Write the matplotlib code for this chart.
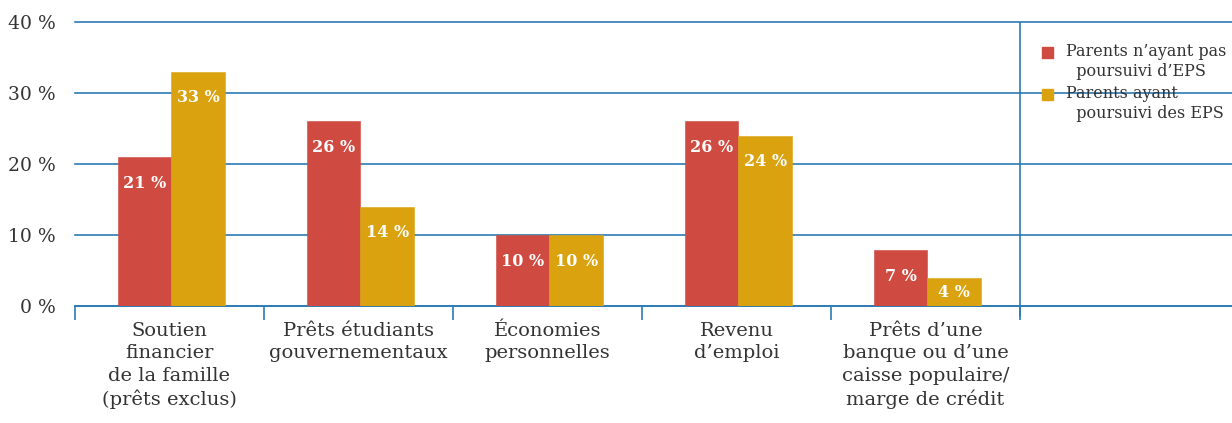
import numpy as np
import matplotlib
matplotlib.use("Agg")
import matplotlib.pyplot as plt
from matplotlib.patches import Rectangle

categories = ["Soutien\nfinancier\nde la famille\n(prêts exclus)",
              "Prêts étudiants\ngouvernementaux",
              "Économies\npersonnelles",
              "Revenu\nd’emploi",
              "Prêts d’une\nbanque ou d’une\ncaisse populaire/\nmarge de crédit"]
no_eps = [21, 26, 10, 26, 7.9]
no_eps_labels = ["21 %", "26 %", "10 %", "26 %", "7 %"]
eps = [33, 14, 10, 24, 3.9]
eps_labels = ["33 %", "14 %", "10 %", "24 %", "4 %"]
series_names = ["Parents n’ayant pas\n  poursuivi d’EPS", "Parents ayant\n  poursuivi des EPS"]
yticks = [0, 10, 20, 30, 40]

RED = "#cf4a40"
YEL = "#dba20f"
BLUE = "#2b7bb5"
TXT = "#333333"

plt.rcParams["font.family"] = ["DejaVu Serif"]

W, H = 1232, 423
fig = plt.figure(figsize=(W / 100, H / 100), dpi=100)
ax = fig.add_axes([75 / W, (H - 306) / H, (W - 75) / W, (306 - 22) / H])

x = np.arange(len(categories)) + 0.01
bw = 0.285
b1 = ax.bar(x - bw / 2, no_eps, bw, color=RED, zorder=3, edgecolor=RED, lw=0.4)
b2 = ax.bar(x + bw / 2, eps, bw, color=YEL, zorder=3, edgecolor=YEL, lw=0.4)

for bars, labels in ((b1, no_eps_labels), (b2, eps_labels)):
    for r, lab in zip(bars, labels):
        h = r.get_height()
        y = max(h - 3.7, h / 2)
        ax.text(r.get_x() + r.get_width() / 2, y, lab, ha="center", va="center",
                color="white", fontweight="bold", fontsize=11.5, zorder=4)

ax.set_ylim(0, 40)
ax.set_xlim(-0.5, 4.5 + 212 / 189)
ax.set_yticks(yticks)
ax.set_yticklabels([f"{v} %" for v in yticks], fontsize=13.5, color=TXT)
for v in yticks:
    ax.axhline(v, color=BLUE, lw=1.2, zorder=1, clip_on=False)
ax.axvline(4.5, color=BLUE, lw=1.2, zorder=1)
ax.plot([4.5, 4.5], [0, -1.4], color=BLUE, lw=1.2, clip_on=False)

ax.set_xticks(np.arange(-0.5, 4.6, 1))
ax.set_xticklabels([])
ax.tick_params(axis="x", direction="out", length=10, width=1.2, color=BLUE)
ax.tick_params(axis="y", length=0, pad=14)
for s in ["top", "right", "left"]:
    ax.spines[s].set_visible(False)
ax.spines["bottom"].set_color(BLUE)
ax.spines["bottom"].set_linewidth(1.2)

for i, c in enumerate(categories):
    ax.text(i, -2.2, c, ha="center", va="top", fontsize=14, color=TXT,
            linespacing=1.33, clip_on=False)

# legend
for yy, col, name in ((53, RED, series_names[0]), (95, YEL, series_names[1])):
    fig.add_artist(Rectangle((1042 / W, (H - yy - 5.5) / H), 11 / W, 11 / H,
                             transform=fig.transFigure, color=col))
    fig.text(1066 / W, (H - yy + 9.5) / H, name, fontsize=11.5, color=TXT,
             va="top", ha="left", linespacing=1.2)

fig.savefig("out.png", dpi=100)
